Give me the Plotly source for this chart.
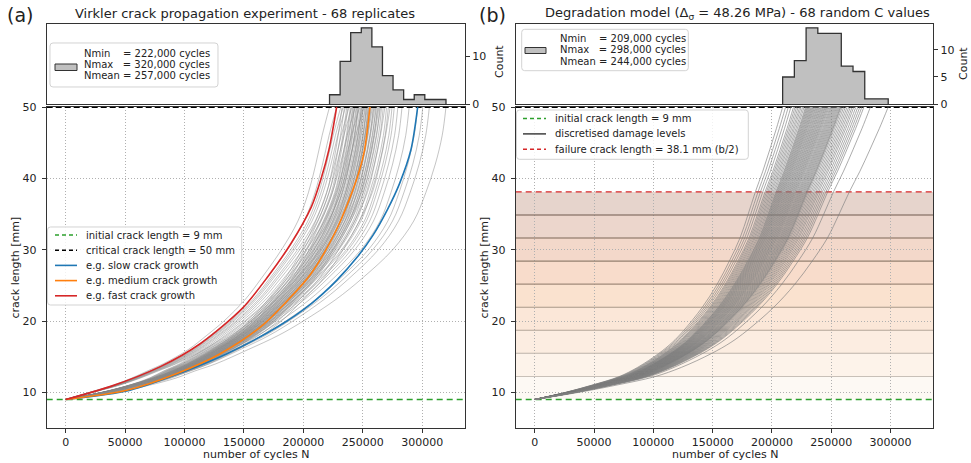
import plotly.graph_objects as go

W, H = 971, 463

# ------------------------------------------------------------------ data
N_TICKS = [0, 50000, 100000, 150000, 200000, 250000, 300000]
A_TICKS = [10, 20, 30, 40, 50]

A_INITIAL = 9.0
A_CRITICAL = 50.0
A_FAILURE_B = 38.1

# histogram of cycles-to-failure, panel (a)
hist_a_edges = [222000, 230909, 239818, 248727, 257636, 266545, 275455,
                284364, 293273, 302182, 311091, 320000]
hist_a_counts = [2, 9, 15, 16, 12, 6, 3, 1, 2, 1, 1]
# histogram of cycles-to-failure, panel (b)
hist_b_edges = [209000, 218889, 228778, 238667, 248556, 258444, 268333,
                278222, 288111, 298000]
hist_b_counts = [5, 8, 14, 13, 13, 7, 6, 1, 1]

# (a) final lives of the 68 Virkler replicates
life_a = [222000, 228000,
          231500, 232500, 233500, 234500, 235500, 236500, 237500, 238500, 239500,
          240200, 240800, 241400, 242000, 242600, 243200, 243800, 244400, 245000,
          245600, 246200, 246800, 247400, 248000, 248600,
          249000, 249500, 250000, 250600, 251100, 251700, 252200, 252800, 253300,
          253900, 254400, 255000, 255500, 256000, 256600, 257200,
          258000, 258700, 259400, 260100, 260800, 261500, 262200, 262900, 263600,
          264300, 265000, 265800,
          267200, 268600, 270000, 271500, 273000, 274600,
          276500, 279500, 283000,
          289000, 296200, 300500, 306000, 320000]
# growth-shape class of each replicate (0 fast-type, 1 medium-type, 2 slow-type)
shape_a = [0, 0,
           0, 1, 0, 1, 0, 1, 1, 0, 1,
           1, 0, 1, 1, 2, 1, 0, 1, 1, 2, 1, 1, 0, 1, 2,
           1, 1, 2, 1, 0, 1, 1, 2, 1, 1, 2, 1, 1, 1, 2, 1,
           1, 2, 1, 1, 2, 1, 2, 1, 1, 2, 1, 2,
           2, 1, 2, 2, 1, 2,
           2, 2, 2,
           2, 2, 2, 2, 2]

# crack lengths at which the growth shapes are read (mm)
a_grid_a = [9, 10, 11, 12, 13, 14, 16, 18, 20, 23, 26, 30, 34, 38, 42, 46, 50]
# fraction of life consumed at each crack length
frac_fast = [0, 0.09, 0.18, 0.25, 0.31, 0.37, 0.465, 0.535, 0.60, 0.68, 0.742,
             0.818, 0.88, 0.92, 0.948, 0.972, 1.0]
frac_medium = [0, 0.13, 0.23, 0.315, 0.385, 0.44, 0.53, 0.605, 0.665, 0.732,
               0.795, 0.855, 0.905, 0.945, 0.968, 0.986, 1.0]
frac_slow = [0, 0.13, 0.22, 0.29, 0.34, 0.395, 0.48, 0.56, 0.625, 0.71, 0.78,
             0.86, 0.915, 0.947, 0.972, 0.99, 1.0]

# highlighted replicates (cycles, crack length)
slow_N = [0, 54200, 99400, 136100, 178400, 206700, 228000, 245500, 258500,
          270500, 281000, 290500, 296200]
slow_a = [9, 10.3, 12.9, 15.45, 19.2, 22.45, 25.7, 29.0, 32.0, 35.55, 39.3,
          44, 50]
medium_N = [0, 51400, 93700, 130400, 164300, 186900, 206700, 226400, 238500,
            247000, 251500, 256000]
medium_a = [9, 10.3, 12.65, 15.45, 19.2, 22.9, 26.7, 32.3, 37, 41, 44, 50]
fast_N = [0, 37300, 79600, 113500, 148800, 170000, 189700, 206700, 215000,
          221500, 228000]
fast_a = [9, 10.8, 13.6, 16.85, 21.8, 26.2, 30.9, 36, 40, 44, 50]

# (b) model lives for 68 random C values
life_b = [209000, 211500, 213800, 216000, 218200,
          219500, 220800, 222100, 223400, 224600, 225900, 227100, 228300,
          229000, 229700, 230400, 231100, 231800, 232500, 233200, 233900, 234600,
          235300, 236000, 236800, 237500, 238300,
          239000, 239800, 240500, 241300, 242000, 242800, 243500, 244300, 245000,
          245800, 246500, 247300, 248100,
          249000, 249800, 250600, 251400, 252200, 253000, 253800, 254600, 255400,
          256200, 257000, 257700, 258200,
          259200, 260500, 261900, 263300, 264700, 266100, 267600,
          269000, 270700, 272400, 274100, 275800, 277500,
          283000, 298000]
a_grid_b = [9, 10, 11, 12.2, 13.5, 15.44, 17, 18.63, 21.87, 25.1, 28.4, 31.63,
            34.87, 38.1, 41, 44, 47, 50]
frac_model = [0, 0.125, 0.23, 0.34, 0.415, 0.5, 0.555, 0.60, 0.675, 0.735,
              0.785, 0.828, 0.86, 0.89, 0.92, 0.948, 0.975, 1.0]

# discretised damage levels (mm) and band colours
damage_levels = [9.0, 12.23, 15.47, 18.7, 21.93, 25.17, 28.4, 31.63, 34.87, 38.1]
band_colors = ['#fdf9f4', '#fdf3ea', '#fcede1', '#fbe7d8', '#fae2cf',
               '#f8dccb', '#f3d8ca', '#ecd6cc', '#e6d4cc']
level_line_colors = ['#c8c0b8', '#bdb2a8', '#b3a597', '#a99786', '#a08a7a',
                     '#94806f', '#7c6657', '#6e594c']

stats_a = ["Nmin\u00a0\u00a0\u00a0\u00a0= 222,000 cycles",
           "Nmax\u00a0\u00a0\u00a0= 320,000 cycles",
           "Nmean\u00a0= 257,000 cycles"]
stats_b = ["Nmin\u00a0\u00a0\u00a0\u00a0= 209,000 cycles",
           "Nmax\u00a0\u00a0\u00a0= 298,000 cycles",
           "Nmean\u00a0= 244,000 cycles"]

legend_a_labels = ["initial crack length = 9 mm", "critical crack length = 50 mm",
                   "e.g. slow crack growth", "e.g. medium crack growth",
                   "e.g. fast crack growth"]
legend_b_labels = ["initial crack length = 9 mm", "discretised damage levels",
                   "failure crack length = 38.1 mm (b/2)"]

# ------------------------------------------------------------------ layout helpers
X_RANGE = [-16000, 336000]
FONT = "DejaVu Sans"
GREEN, BLACK, BLUE, ORANGE, RED = "#2ca02c", "#000000", "#1f77b4", "#ff7f0e", "#d62728"
DASH_BLACK = "6px,3px"
DASH_COL = "6px,4px"


def px(x):
    return x / W


def py(y):
    return 1 - y / H


XA = [px(46.7), px(465)]
XB = [px(515.7), px(933.3)]
Y_MAIN = [py(428), py(107)]
Y_HIST = [py(104.3), py(24)]

fig = go.Figure()


def hist_trace(edges, counts, xa, ya):
    xs = [edges[0]] + list(edges) + [edges[-1]]
    ys = [0] + list(counts) + [counts[-1], 0]
    return go.Scatter(x=xs, y=ys, mode="lines", line=dict(shape="hv", color="#333333", width=1.3),
                      fill="tozeroy", fillcolor="#c0c0c0", showlegend=False,
                      xaxis=xa, yaxis=ya, hoverinfo="skip")


def bundle(lives, fracs_list, a_grid):
    xs, ys = [], []
    for nf, fr in zip(lives, fracs_list):
        xs += [nf * f for f in fr] + [None]
        ys += list(a_grid) + [None]
    return xs, ys


def hline(y, xa, ya, color, width, dash=None):
    return go.Scatter(x=X_RANGE, y=[y, y], mode="lines", showlegend=False, hoverinfo="skip",
                      line=dict(color=color, width=width, dash=dash), xaxis=xa, yaxis=ya)


# ---------------- panel (a)
fig.add_trace(hist_trace(hist_a_edges, hist_a_counts, "x2", "y2"))

profiles = [frac_fast, frac_medium, frac_slow]
gx, gy = bundle(life_a, [profiles[s] for s in shape_a], a_grid_a)
fig.add_trace(go.Scatter(x=gx, y=gy, mode="lines", line=dict(color="rgba(140,140,140,0.5)", width=1, shape="spline"),
                         showlegend=False, xaxis="x", yaxis="y", hoverinfo="skip"))
fig.add_trace(hline(A_INITIAL, "x", "y", GREEN, 1.4, DASH_COL))
fig.add_trace(hline(A_CRITICAL, "x", "y", BLACK, 1.8, DASH_BLACK))
for xs_, ys_, c in [(slow_N, slow_a, BLUE), (medium_N, medium_a, ORANGE), (fast_N, fast_a, RED)]:
    fig.add_trace(go.Scatter(x=xs_, y=ys_, mode="lines", line=dict(color=c, width=1.6, shape="spline", smoothing=0.8),
                             showlegend=False, xaxis="x", yaxis="y", hoverinfo="skip"))

# ---------------- panel (b)
fig.add_trace(hist_trace(hist_b_edges, hist_b_counts, "x4", "y4"))

shapes = []
for i, col in enumerate(band_colors):
    shapes.append(dict(type="rect", xref="x3", yref="y3", x0=X_RANGE[0], x1=X_RANGE[1],
                       y0=damage_levels[i], y1=damage_levels[i + 1], fillcolor=col,
                       line=dict(width=0), layer="below"))

fig.add_trace(hline(A_INITIAL, "x3", "y3", GREEN, 1.4, DASH_COL))
for j, lvl in enumerate(damage_levels[1:-1]):
    fig.add_trace(hline(lvl, "x3", "y3", level_line_colors[j], 1.1))
fig.add_trace(hline(A_FAILURE_B, "x3", "y3", RED, 1.4, DASH_COL))
fig.add_trace(hline(A_CRITICAL, "x3", "y3", BLACK, 1.8, DASH_BLACK))
bx, by = bundle(life_b, [frac_model] * len(life_b), a_grid_b)
fig.add_trace(go.Scatter(x=bx, y=by, mode="lines", line=dict(color="rgba(128,128,128,0.65)", width=1, shape="spline"),
                         showlegend=False, xaxis="x3", yaxis="y3", hoverinfo="skip"))

# ------------------------------------------------------------------ hand-drawn legends


def rounded_box(x0, y0, x1, y1, r=3):
    pts = [("M", [(x0 + r, y0)]), ("L", [(x1 - r, y0)]), ("Q", [(x1, y0), (x1, y0 + r)]),
           ("L", [(x1, y1 - r)]), ("Q", [(x1, y1), (x1 - r, y1)]), ("L", [(x0 + r, y1)]),
           ("Q", [(x0, y1), (x0, y1 - r)]), ("L", [(x0, y0 + r)]), ("Q", [(x0, y0), (x0 + r, y0)])]
    s = ""
    for cmd, pp in pts:
        s += cmd + " " + " ".join(f"{px(a):.5f},{py(b):.5f}" for a, b in pp) + " "
    s += "Z"
    return dict(type="path", xref="paper", yref="paper", path=s,
                fillcolor="rgba(255,255,255,0.82)", line=dict(color="#d3d3d3", width=1), layer="above")


annos = []


def legend_text(x, y, text, size=10):
    annos.append(dict(text=text, x=px(x), y=py(y), xanchor="left", yanchor="middle",
                      font=dict(size=size)))


def legend_line(x0, x1, y, color, dash=None, width=1.6):
    shapes.append(dict(type="line", xref="paper", yref="paper", x0=px(x0), x1=px(x1), y0=py(y), y1=py(y),
                       line=dict(color=color, width=width, dash=dash), layer="above"))


# (a) histogram legend
shapes.append(rounded_box(50, 43, 218, 87))
shapes.append(dict(type="rect", xref="paper", yref="paper", x0=px(55), x1=px(77), y0=py(70.5), y1=py(64),
                   fillcolor="#c0c0c0", line=dict(color="#333333", width=1), layer="above"))
for k, t in enumerate(stats_a):
    legend_text(81.5, 53 + 11.5 * k, t)

# (a) main legend
shapes.append(rounded_box(47.5, 227, 241.7, 305))
styles_a = [(GREEN, "4px,3px"), (BLACK, "4px,3px"), (BLUE, None), (ORANGE, None), (RED, None)]
for k, (t, (c, d)) in enumerate(zip(legend_a_labels, styles_a)):
    yy = 235 + 15.2 * k
    legend_line(55, 77, yy, c, d)
    legend_text(84, yy, t)

# (b) histogram legend
shapes.append(rounded_box(521.7, 29.3, 688.3, 70.7))
shapes.append(dict(type="rect", xref="paper", yref="paper", x0=px(525), x1=px(546), y0=py(53.5), y1=py(47.5),
                   fillcolor="#c0c0c0", line=dict(color="#333333", width=1), layer="above"))
for k, t in enumerate(stats_b):
    legend_text(558, 38.5 + 11.3 * k, t)

# (b) main legend
shapes.append(rounded_box(516.5, 110, 748.3, 159.3))
styles_b = [(GREEN, "4px,3px"), ("#333333", None), (RED, "4px,3px")]
for k, (t, (c, d)) in enumerate(zip(legend_b_labels, styles_b)):
    yy = 118.5 + 15.4 * k
    legend_line(523, 546, yy, c, d, 1.4)
    legend_text(553, yy, t)

# ------------------------------------------------------------------ axes
tickfont = dict(family=FONT, size=11, color="#222222")
frame = dict(showline=True, linecolor="#333333", linewidth=1, mirror=True, zeroline=False, automargin=False)
main_x = dict(range=X_RANGE, tickvals=N_TICKS, tickformat="d", ticks="outside", ticklen=4,
              tickcolor="#333333", showgrid=True, gridcolor="#b0b0b0", griddash="1px,2px", gridwidth=1,
              tickfont=tickfont, **frame)
main_y = dict(range=[5, 50], tickvals=A_TICKS, ticks="outside", ticklen=4, tickcolor="#333333",
              ticklabelstandoff=3,
              showgrid=True, gridcolor="#b0b0b0", griddash="1px,2px", gridwidth=1, tickfont=tickfont, **frame)
hist_x = dict(range=X_RANGE, showticklabels=False, ticks="", showgrid=False, **frame)

fig.update_layout(
    width=W, height=H, autosize=False,
    margin=dict(l=0, r=0, t=0, b=0, pad=0),
    paper_bgcolor="white", plot_bgcolor="white", showlegend=False,
    font=dict(family=FONT, size=11, color="#222222"),
    xaxis=dict(domain=XA, anchor="y", **main_x),
    yaxis=dict(domain=Y_MAIN, anchor="x", **main_y),
    xaxis2=dict(domain=XA, anchor="y2", **hist_x),
    yaxis2=dict(domain=Y_HIST, anchor="x2", side="right", range=[0, 16.8], tickvals=[0, 10],
                ticks="outside", ticklen=4, tickcolor="#333333", showgrid=False, tickfont=tickfont, **frame),
    xaxis3=dict(domain=XB, anchor="y3", **main_x),
    yaxis3=dict(domain=Y_MAIN, anchor="x3", **main_y),
    xaxis4=dict(domain=XB, anchor="y4", **hist_x),
    yaxis4=dict(domain=Y_HIST, anchor="x4", side="right", range=[0, 14.7], tickvals=[0, 5, 10],
                ticks="outside", ticklen=4, tickcolor="#333333", showgrid=False, tickfont=tickfont, **frame),
    shapes=shapes,
)

annos += [
    dict(text="(a)", x=px(20), y=py(15), font=dict(size=19)),
    dict(text="Virkler crack propagation experiment - 68 replicates", x=px(245), y=py(13), font=dict(size=13)),
    dict(text="(b)", x=px(492), y=py(15), font=dict(size=19)),
    dict(text="Degradation model (\u0394<sub>\u03c3</sub> = 48.26 MPa) - 68 random C values",
         x=px(737), y=py(13), font=dict(size=13)),
    dict(text="crack length [mm]", x=px(15), y=py(267.5), textangle=-90, font=dict(size=11)),
    dict(text="crack length [mm]", x=px(484), y=py(267.5), textangle=-90, font=dict(size=11)),
    dict(text="number of cycles N", x=px(256), y=py(454), font=dict(size=11)),
    dict(text="number of cycles N", x=px(725), y=py(454), font=dict(size=11)),
    dict(text="Count", x=px(499), y=py(62), textangle=-90, font=dict(size=11)),
    dict(text="Count", x=px(963), y=py(64), textangle=-90, font=dict(size=11)),
]
for a in annos:
    a.setdefault("xanchor", "center")
    a.setdefault("yanchor", "middle")
    a.update(xref="paper", yref="paper", showarrow=False)
    a["font"] = dict(family=FONT, color="#222222", **a["font"])
fig.update_layout(annotations=annos)

fig.write_html("out.html", config={"displayModeBar": False},
               post_script="document.body.style.margin='0px';")
